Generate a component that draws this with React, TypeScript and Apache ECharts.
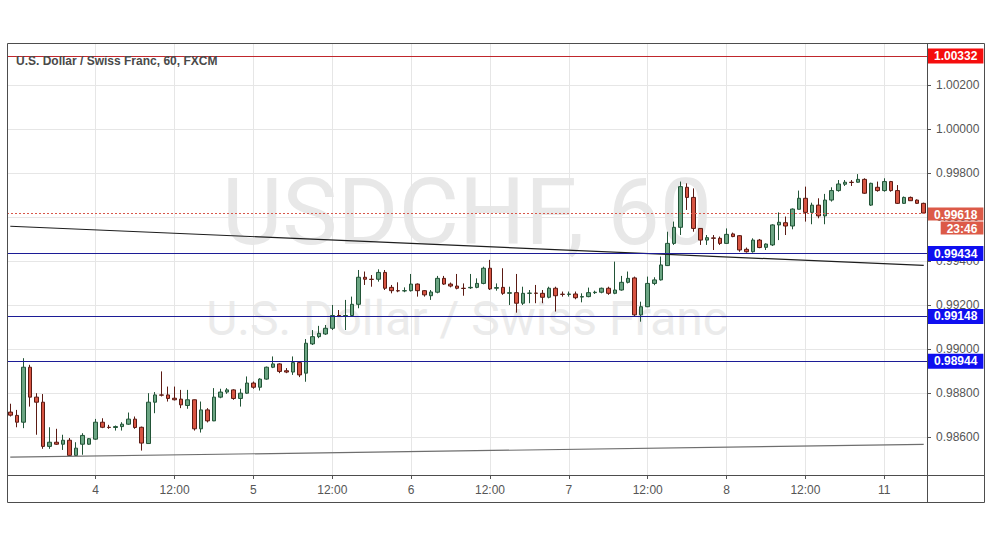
import React, { useEffect, useRef } from 'react';
import * as echarts from 'echarts';

// ---- sessions (hourly candles) ----
const sessionDays = [3, 4, 5, 6, 7, 8, 11];
const sessionStartHours = [11, 0, 0, 0, 0, 0, 0];
const sessionLengths = [13, 24, 24, 24, 24, 24, 7];

// ---- OHLC values ----
const opens = [
  0.98713, 0.98698, 0.98667, 0.98917, 0.98781, 0.98758, 0.98557, 0.98576, 0.98567, 0.98585,
  0.98516, 0.98567, 0.98567, 0.9859, 0.98667, 0.98644, 0.98643, 0.98647, 0.98658, 0.98681,
  0.98644, 0.9857, 0.98758, 0.98791, 0.98791, 0.98776, 0.98772, 0.98743, 0.98769, 0.98637,
  0.98723, 0.98673, 0.98781, 0.98804, 0.98814, 0.98775, 0.98799, 0.98845, 0.98826, 0.98863,
  0.98917, 0.98932, 0.98901, 0.98895, 0.98938, 0.9889, 0.99023, 0.99056, 0.99068, 0.99094,
  0.99152, 0.9915, 0.99152, 0.99203, 0.99326, 0.99317, 0.99317, 0.99348, 0.9928, 0.99265,
  0.99264, 0.99265, 0.99295, 0.99265, 0.99242, 0.99258, 0.99321, 0.99295, 0.99286, 0.99276,
  0.99278, 0.9928, 0.99298, 0.99367, 0.99276, 0.9928, 0.99253, 0.99256, 0.99208, 0.99253,
  0.99254, 0.99253, 0.99235, 0.99276, 0.99249, 0.99248, 0.9925, 0.99236, 0.99238, 0.99256,
  0.99258, 0.99276, 0.99253, 0.99268, 0.99303, 0.99323, 0.99155, 0.99192, 0.99298, 0.99314,
  0.99379, 0.9948, 0.99553, 0.99735, 0.99689, 0.99548, 0.99495, 0.99505, 0.99503, 0.9948,
  0.99523, 0.99515, 0.99453, 0.99442, 0.99495, 0.99462, 0.99473, 0.99564, 0.99574, 0.99559,
  0.99635, 0.99685, 0.99621, 0.99654, 0.99605, 0.99677, 0.9972, 0.99749, 0.99758, 0.99758,
  0.99771, 0.99654, 0.99735, 0.9972, 0.99761, 0.9972, 0.99662, 0.99689, 0.99677, 0.99662,
];
const highs = [
  0.98751, 0.98723, 0.98958, 0.98928, 0.98799, 0.98795, 0.98644, 0.98637, 0.9861, 0.98595,
  0.98576, 0.98617, 0.98595, 0.98682, 0.98685, 0.98655, 0.98652, 0.98667, 0.98711, 0.98693,
  0.98647, 0.98799, 0.98804, 0.98898, 0.98829, 0.98829, 0.98814, 0.98814, 0.9877, 0.98761,
  0.98731, 0.98822, 0.98819, 0.98822, 0.98817, 0.98819, 0.98875, 0.98852, 0.98867, 0.9892,
  0.98966, 0.98935, 0.98913, 0.98966, 0.98943, 0.99045, 0.99086, 0.99105, 0.99109, 0.992,
  0.99177, 0.99223, 0.99238, 0.99359, 0.99352, 0.99336, 0.99362, 0.99359, 0.99291, 0.99303,
  0.9928, 0.99341, 0.99298, 0.99268, 0.99268, 0.99332, 0.99332, 0.99302, 0.99341, 0.99298,
  0.99341, 0.99321, 0.99374, 0.99405, 0.99298, 0.99367, 0.99283, 0.99341, 0.99283, 0.99268,
  0.99291, 0.99268, 0.99283, 0.99283, 0.99261, 0.99261, 0.99261, 0.99253, 0.99279, 0.99265,
  0.99279, 0.99283, 0.99397, 0.99332, 0.99352, 0.99329, 0.99215, 0.99329, 0.99326, 0.9942,
  0.99533, 0.99579, 0.99761, 0.99753, 0.9973, 0.99549, 0.99518, 0.99518, 0.99511, 0.99548,
  0.99529, 0.99518, 0.99461, 0.99503, 0.995, 0.9948, 0.99567, 0.99621, 0.99602, 0.99639,
  0.9972, 0.99738, 0.99665, 0.99685, 0.99705, 0.99735, 0.99768, 0.99768, 0.99768, 0.99795,
  0.99776, 0.99756, 0.99761, 0.99776, 0.99764, 0.99745, 0.99693, 0.99693, 0.9968, 0.99665,
];
const lows = [
  0.98693, 0.98644, 0.9864, 0.98738, 0.9861, 0.98546, 0.98546, 0.98564, 0.98541, 0.98514,
  0.98514, 0.98519, 0.98564, 0.98587, 0.9864, 0.98637, 0.98629, 0.98629, 0.98655, 0.98637,
  0.98538, 0.9857, 0.98708, 0.98784, 0.98761, 0.98766, 0.98731, 0.98728, 0.98629, 0.9862,
  0.98666, 0.98672, 0.98776, 0.98796, 0.98769, 0.98738, 0.98796, 0.98819, 0.98811, 0.9886,
  0.98913, 0.9889, 0.9889, 0.98882, 0.98872, 0.98851, 0.99018, 0.99049, 0.99064, 0.99086,
  0.99147, 0.99086, 0.99147, 0.99185, 0.99291, 0.99283, 0.99306, 0.99268, 0.99253, 0.99258,
  0.99258, 0.99261, 0.99238, 0.99238, 0.99223, 0.99253, 0.99291, 0.9928, 0.99271, 0.99242,
  0.99273, 0.99276, 0.99294, 0.99268, 0.99265, 0.99246, 0.992, 0.99165, 0.992, 0.99208,
  0.99208, 0.99208, 0.9923, 0.9917, 0.99238, 0.99238, 0.99226, 0.99212, 0.99235, 0.9925,
  0.99253, 0.99246, 0.99249, 0.99265, 0.99298, 0.9915, 0.99124, 0.9919, 0.9929, 0.99311,
  0.99377, 0.99473, 0.99518, 0.99632, 0.99533, 0.99473, 0.99473, 0.9945, 0.99473, 0.99477,
  0.99508, 0.99442, 0.99438, 0.99438, 0.99458, 0.9945, 0.99468, 0.99495, 0.99518, 0.99544,
  0.99635, 0.99579, 0.99567, 0.99594, 0.99567, 0.9967, 0.99715, 0.99741, 0.99741, 0.99756,
  0.99705, 0.9965, 0.99715, 0.99715, 0.99715, 0.99659, 0.99659, 0.99673, 0.99659, 0.99617,
];
const closes = [
  0.98699, 0.98667, 0.98917, 0.98781, 0.98758, 0.98557, 0.98576, 0.98567, 0.98585, 0.98516,
  0.98549, 0.98607, 0.98592, 0.98667, 0.98644, 0.98643, 0.98647, 0.98658, 0.98681, 0.98643,
  0.98572, 0.98758, 0.98791, 0.9879, 0.98775, 0.98769, 0.98746, 0.98769, 0.98637, 0.98723,
  0.98673, 0.98781, 0.98804, 0.98814, 0.98775, 0.98799, 0.98845, 0.98826, 0.98863, 0.98917,
  0.98932, 0.98898, 0.98895, 0.98938, 0.98882, 0.99026, 0.99056, 0.99071, 0.99094, 0.99152,
  0.9915, 0.99152, 0.99203, 0.99326, 0.99317, 0.99316, 0.99348, 0.99276, 0.99265, 0.99264,
  0.99265, 0.99295, 0.99265, 0.99246, 0.99259, 0.99321, 0.99295, 0.99286, 0.99276, 0.99275,
  0.9928, 0.99298, 0.99367, 0.99273, 0.99279, 0.99253, 0.99256, 0.99208, 0.99253, 0.99254,
  0.99253, 0.99235, 0.99276, 0.99242, 0.99248, 0.9925, 0.99233, 0.99238, 0.99256, 0.99258,
  0.99276, 0.99253, 0.99268, 0.99303, 0.99321, 0.99155, 0.99192, 0.99298, 0.99314, 0.99382,
  0.9948, 0.99553, 0.99738, 0.99689, 0.99548, 0.99495, 0.99506, 0.99503, 0.9948, 0.99521,
  0.99511, 0.9945, 0.99442, 0.99495, 0.99461, 0.99477, 0.99564, 0.99576, 0.99559, 0.99636,
  0.99685, 0.99621, 0.99654, 0.99605, 0.99677, 0.9972, 0.9975, 0.99758, 0.99757, 0.99771,
  0.99708, 0.99753, 0.9972, 0.99761, 0.9972, 0.99662, 0.99689, 0.99674, 0.99662, 0.99618,
];

// ---- axis / annotation values ----
const yTickValues = [0.986, 0.988, 0.99, 0.992, 0.994, 0.996, 0.998, 1.0, 1.002];
const yMin = 0.98427;
const yMax = 1.00391;
const resistanceLevel = 1.00332;
const supportLevels = [0.99434, 0.99148, 0.98944];
const lastPrice = 0.99618;
const countdownText = '23:46';
const trendIndices = [0, 139];
const upperTrendValues = [0.99558, 0.9938];
const lowerTrendValues = [0.98508, 0.98566];
const titleText = 'U.S. Dollar / Swiss Franc, 60, FXCM';
const watermarkMain = 'USDCHF, 60';
const watermarkSub = 'U.S. Dollar / Swiss Franc';

// categories built from sessions
const categories: string[] = [];
const catDay: number[] = [];
const catHour: number[] = [];
sessionDays.forEach((d, s) => {
  for (let k = 0; k < sessionLengths[s]; k++) {
    const h = sessionStartHours[s] + k;
    categories.push(`${d} ${String(h).padStart(2, '0')}:00`);
    catDay.push(d);
    catHour.push(h);
  }
});
const isMajor = (i: number) => i > 5 && (catHour[i] === 0 || catHour[i] === 12);
const majorIdx = categories.map((_, i) => i).filter(isMajor);

const FONT = 'Liberation Sans, Arial, sans-serif';
const LAST_BG = '#dc5a48';

export default function App() {
  const ref = useRef<HTMLDivElement>(null);
  useEffect(() => {
    if (!ref.current) return;
    const chart = echarts.init(ref.current, null, { renderer: 'svg' });
    const candleData = categories.map((_, i) => [opens[i], closes[i], lows[i], highs[i]]);

    const boxLabel = (text: string, bg: string) => ({
      show: true,
      position: 'end',
      distance: 1,
      formatter: text,
      backgroundColor: bg,
      color: '#ffffff',
      fontWeight: 'bold',
      fontSize: 12,
      fontFamily: FONT,
      lineHeight: 12,
      padding: [2, 6, 1, 6],
    });

    const boxStyle = {
      backgroundColor: LAST_BG,
      color: '#ffffff',
      fontWeight: 'bold',
      fontSize: 12,
      fontFamily: FONT,
      lineHeight: 14,
      padding: [1, 6, 0, 6],
    };

    const option: any = {
      animation: false,
      backgroundColor: '#ffffff',
      grid: { left: 7, top: 43, width: 920, height: 432, containLabel: false },
      xAxis: {
        type: 'category',
        data: categories,
        boundaryGap: true,
        axisLine: { show: false },
        axisTick: {
          show: true,
          alignWithLabel: true,
          interval: (i: number) => isMajor(i),
          length: 4,
          lineStyle: { color: '#555555' },
        },
        axisLabel: {
          interval: (i: number) => isMajor(i),
          formatter: (_v: string, i: number) => (catHour[i] === 0 ? String(catDay[i]) : '12:00'),
          color: '#555555',
          fontSize: 12,
          fontFamily: FONT,
          margin: 9,
        },
        splitLine: { show: false },
      },
      yAxis: {
        type: 'value',
        position: 'right',
        min: yMin,
        max: yMax,
        scale: true,
        axisLine: { show: false },
        axisTick: { show: true, length: 4, customValues: yTickValues, lineStyle: { color: '#555555' } },
        axisLabel: {
          customValues: yTickValues,
          formatter: (v: number) => v.toFixed(5),
          color: '#555555',
          fontSize: 12,
          fontFamily: FONT,
          margin: 9,
        },
        splitLine: { show: false },
      },
      graphic: [
        {
          type: 'text', z: 0, silent: true,
          style: { x: 467, y: 212, text: watermarkMain, fill: '#e8e8e8', font: '93px Roboto, sans-serif', textAlign: 'center', textVerticalAlign: 'middle' },
        },
        {
          type: 'text', z: 0, silent: true,
          style: { x: 467, y: 318, text: watermarkSub, fill: '#ebebeb', font: '48px Roboto, sans-serif', textAlign: 'center', textVerticalAlign: 'middle' },
        },
        {
          type: 'text', z: 20, silent: true,
          style: { x: 16, y: 61, text: titleText, fill: '#4a4a4a', font: 'bold 12px ' + FONT, textVerticalAlign: 'middle' },
        },
        {
          type: 'rect', z: 20, silent: true,
          shape: { x: 7.5, y: 43.5, width: 977, height: 459 },
          style: { fill: 'none', stroke: '#4d4d4d', lineWidth: 1 },
        },
        {
          type: 'line', z: 20, silent: true,
          shape: { x1: 927.5, y1: 43, x2: 927.5, y2: 502 },
          style: { stroke: '#4d4d4d', lineWidth: 1 },
        },
        {
          type: 'line', z: 20, silent: true,
          shape: { x1: 7, y1: 475.5, x2: 984, y2: 475.5 },
          style: { stroke: '#4d4d4d', lineWidth: 1 },
        },
      ],
      series: [
        {
          type: 'line',
          data: [],
          z: 1,
          silent: true,
          markLine: {
            z: 1,
            silent: true,
            precision: 6,
            symbol: ['none', 'none'],
            label: { show: false },
            lineStyle: { color: '#e6e6e6', width: 1, type: 'solid' },
            emphasis: { disabled: true },
            data: [
              ...yTickValues.map((v) => ({ yAxis: v })),
              ...majorIdx.map((i) => ({ xAxis: i })),
            ],
          },
        },
        {
          type: 'candlestick',
          data: candleData,
          z: 2,
          barWidth: 4,
          itemStyle: {
            color: '#6ba583',
            color0: '#d75442',
            borderColor: '#225437',
            borderColor0: '#5b1a13',
            borderWidth: 1,
          },
          markLine: {
            z: 5,
            silent: true,
            precision: 6,
            symbol: ['none', 'none'],
            emphasis: { disabled: true },
            data: [
              [
                { coord: [trendIndices[0], upperTrendValues[0]], lineStyle: { color: '#1e1e1e', width: 1.2, type: 'solid' }, label: { show: false } },
                { coord: [trendIndices[1], upperTrendValues[1]] },
              ],
              [
                { coord: [trendIndices[0], lowerTrendValues[0]], lineStyle: { color: '#6e6e6e', width: 1.2, type: 'solid' }, label: { show: false } },
                { coord: [trendIndices[1], lowerTrendValues[1]] },
              ],
              {
                yAxis: resistanceLevel,
                lineStyle: { color: '#c0262c', width: 1, type: 'solid' },
                label: boxLabel(resistanceLevel.toFixed(5), '#f50d0d'),
              },
              ...supportLevels.map((v) => ({
                yAxis: v,
                lineStyle: { color: '#1c1c96', width: 1.2, type: 'solid' },
                label: boxLabel(v.toFixed(5), '#0f0ff0'),
              })),
              {
                yAxis: lastPrice,
                lineStyle: { color: '#d9574a', width: 1, type: [2, 2] },
                label: {
                  show: true,
                  position: 'end',
                  distance: 1,
                  offset: [0, 8],
                  formatter: `{a|${lastPrice.toFixed(5)}}\n{b|${countdownText}}`,
                  rich: {
                    a: { ...boxStyle },
                    b: { ...boxStyle, align: 'right' },
                  },
                },
              },
            ],
          },
        },
      ],
    };
    chart.setOption(option);
    return () => chart.dispose();
  }, []);

  return (
    <div
      ref={ref}
      style={{ position: 'fixed', left: 0, top: 0, width: 991, height: 539, background: '#ffffff' }}
    />
  );
}
